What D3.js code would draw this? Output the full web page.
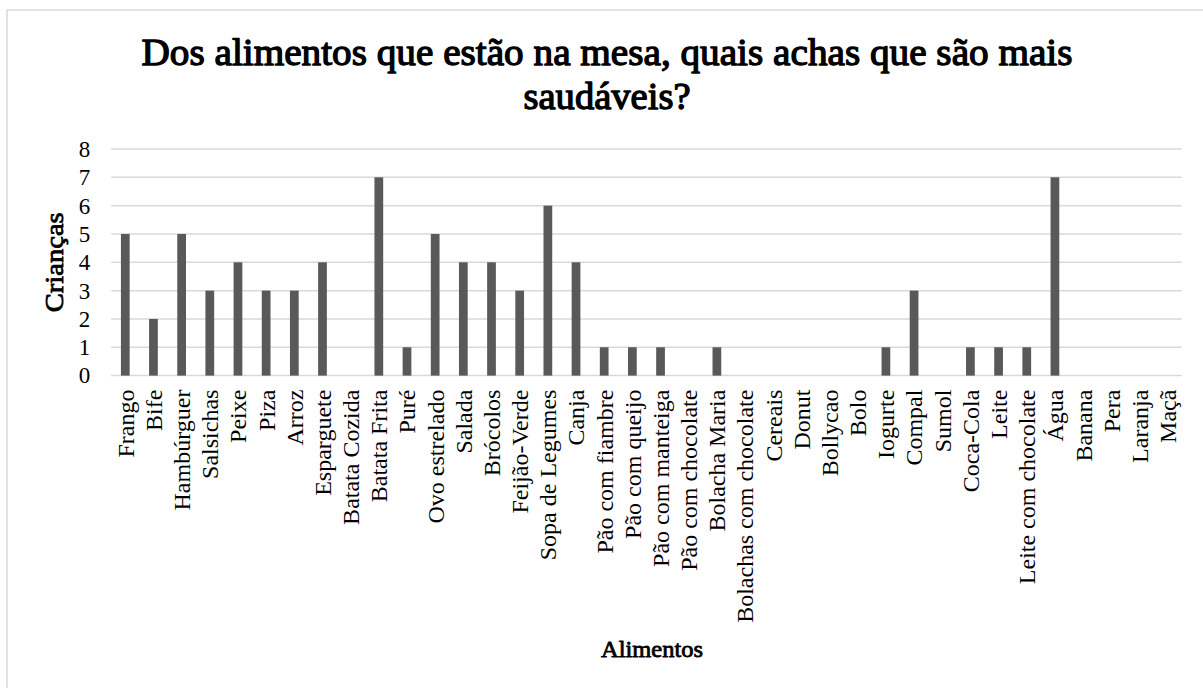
<!DOCTYPE html>
<html>
<head>
<meta charset="utf-8">
<script src="https://cdn.jsdelivr.net/npm/d3@7"></script>
<style>
  html, body { margin: 0; padding: 0; background: #fff; }
  svg { display: block; }
  text { font-family: "Liberation Serif", "Times New Roman", serif; fill: #000; }
</style>
</head>
<body>
<svg id="chart" width="1203" height="688"></svg>
<script>
// Survey answers: how many children picked each food as healthy
const categories = [
  "Frango", "Bife", "Hambúrguer", "Salsichas", "Peixe", "Piza", "Arroz", "Esparguete",
  "Batata Cozida", "Batata Frita", "Puré", "Ovo estrelado", "Salada", "Brócolos",
  "Feijão-Verde", "Sopa de Legumes", "Canja", "Pão com fiambre", "Pão com queijo",
  "Pão com manteiga", "Pão com chocolate", "Bolacha Maria", "Bolachas com chocolate",
  "Cereais", "Donut", "Bollycao", "Bolo", "Iogurte", "Compal", "Sumol", "Coca-Cola",
  "Leite", "Leite com chocolate", "Água", "Banana", "Pera", "Laranja", "Maçã"
];
const values = [
  5, 2, 5, 3, 4, 3, 3, 4,
  0, 7, 1, 5, 4, 4,
  3, 6, 4, 1, 1,
  1, 0, 1, 0,
  0, 0, 0, 0, 1, 3, 0, 1,
  1, 1, 7, 0, 0, 0, 0
];
const yTicks = [0, 1, 2, 3, 4, 5, 6, 7, 8];
const titleLines = ["Dos alimentos que estão na mesa, quais achas que são mais", "saudáveis?"];
const yTitle = "Crianças";
const xTitle = "Alimentos";

const serif = "'Liberation Serif', 'Times New Roman', serif";
const svg = d3.select("#chart");

// heavy serif text: regular face thickened with a matching outline
function heavy(sel, width) {
  return sel.attr("font-family", serif)
    .attr("font-weight", "normal")
    .attr("stroke", "#000")
    .attr("stroke-width", width)
    .attr("stroke-linejoin", "round")
    .attr("lengthAdjust", "spacingAndGlyphs");
}

// chart frame
svg.append("rect")
  .attr("x", 7).attr("y", 10)
  .attr("width", 1200).attr("height", 700)
  .attr("fill", "#fff").attr("stroke", "#d9d9d9").attr("stroke-width", 1.5);

const plot = { left: 111.2, right: 1181.7, top: 149, bottom: 375.6 };

const x = d3.scaleBand()
  .domain(categories)
  .range([plot.left, plot.right])
  .paddingInner(0.69).paddingOuter(0.345);

const y = d3.scaleLinear()
  .domain([0, 8])
  .range([plot.bottom, plot.top]);

// horizontal gridlines
svg.append("g")
  .selectAll("line")
  .data(yTicks)
  .join("line")
  .attr("x1", plot.left).attr("x2", plot.right)
  .attr("y1", d => y(d)).attr("y2", d => y(d))
  .attr("stroke", "#d9d9d9").attr("stroke-width", 1.5);

// y-axis tick labels
const yAxis = d3.axisLeft(y).tickValues(yTicks).tickSize(0).tickPadding(0);
svg.append("g")
  .attr("transform", `translate(${plot.left - 21},0)`)
  .call(yAxis)
  .call(g => g.select(".domain").remove())
  .selectAll("text")
  .attr("font-family", serif)
  .attr("font-size", 23)
  .attr("fill", "#000");

// bars
svg.append("g")
  .selectAll("rect")
  .data(categories.map((c, i) => ({ c, v: values[i] })))
  .join("rect")
  .attr("x", d => x(d.c))
  .attr("width", x.bandwidth())
  .attr("y", d => y(d.v))
  .attr("height", d => y(0) - y(d.v))
  .attr("fill", "#595959");

// x-axis category labels, rotated
const xAxis = d3.axisBottom(x).tickSize(0).tickPadding(0);
svg.append("g")
  .attr("transform", `translate(0,${plot.bottom})`)
  .call(xAxis)
  .call(g => g.select(".domain").remove())
  .selectAll("text")
  .attr("font-family", serif)
  .attr("font-size", 24)
  .attr("fill", "#000")
  .attr("text-anchor", "end")
  .attr("transform", "rotate(-90)")
  .attr("x", -14)
  .attr("y", 0)
  .attr("dy", "0.35em");

// title, two centred lines
const titleWidths = [931, 167];
svg.append("g")
  .selectAll("text")
  .data(titleLines)
  .join("text")
  .call(heavy, 1.3)
  .attr("font-size", 38)
  .attr("text-anchor", "middle")
  .attr("x", 607)
  .attr("y", (d, i) => 65 + i * 44)
  .attr("textLength", (d, i) => titleWidths[i])
  .text(d => d);

// axis titles
svg.append("text")
  .call(heavy, 0.8)
  .attr("transform", `translate(63,${(plot.top + plot.bottom) / 2}) rotate(-90)`)
  .attr("text-anchor", "middle")
  .attr("font-size", 25)
  .attr("textLength", 100)
  .text(yTitle);

svg.append("text")
  .call(heavy, 0.8)
  .attr("x", 652)
  .attr("y", 657)
  .attr("text-anchor", "middle")
  .attr("font-size", 24)
  .attr("textLength", 102)
  .text(xTitle);
</script>
</body>
</html>
